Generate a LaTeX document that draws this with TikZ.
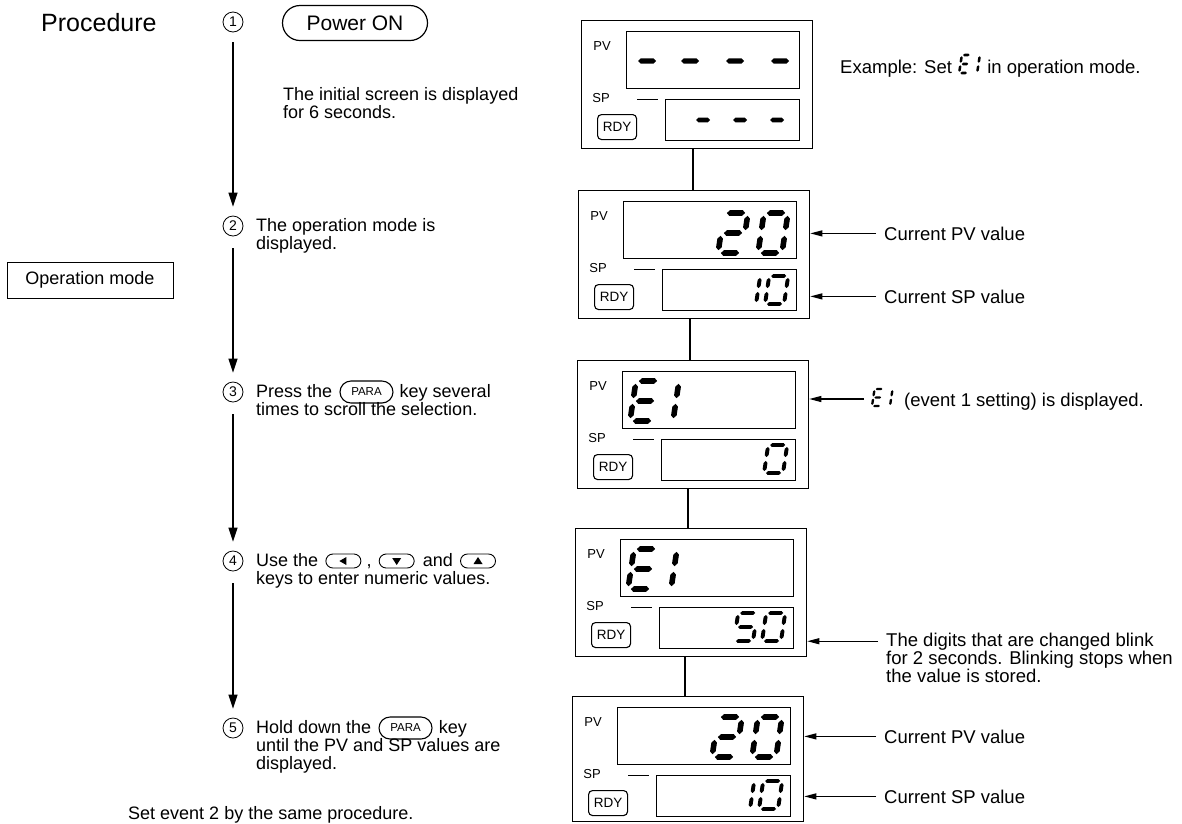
\documentclass[tikz,border=0pt]{standalone}
\usepackage{fontspec}
\setmainfont{Liberation Sans}
\usetikzlibrary{arrows.meta,shapes.misc,calc}

\newcommand\hsg[3]{\fill ({#1},{#3}) -- ({#1+\dgst},{#3+\dgst}) -- ({#2-\dgst},{#3+\dgst}) -- ({#2},{#3}) -- ({#2-\dgst},{#3-\dgst}) -- ({#1+\dgst},{#3-\dgst}) -- cycle;}
\newcommand\vsg[3]{\fill ({#1},{#2}) -- ({#1+\dgst},{#2+\dgst}) -- ({#1+\dgst},{#3-\dgst}) -- ({#1},{#3}) -- ({#1-\dgst},{#3-\dgst}) -- ({#1-\dgst},{#2+\dgst}) -- cycle;}
\newcommand\dsega{\hsg{\dgg}{\dgw-\dgg}{\dgh}}
\newcommand\dsegb{\vsg{\dgw}{\dgh/2+\dgg}{\dgh-\dgg}}
\newcommand\dsegc{\vsg{\dgw}{\dgg}{\dgh/2-\dgg}}
\newcommand\dsegd{\hsg{\dgg}{\dgw-\dgg}{0}}
\newcommand\dsege{\vsg{0}{\dgg}{\dgh/2-\dgg}}
\newcommand\dsegf{\vsg{0}{\dgh/2+\dgg}{\dgh-\dgg}}
\newcommand\dsegg{\hsg{\dgg}{\dgw-\dgg}{\dgh/2}}
\newcommand\sevseg[4]{%
 \begin{scope}[shift={(#1)},x=1pt,y=1pt,xslant=0.15]
 \pgfmathsetmacro\dgw{#2}\pgfmathsetmacro\dgh{#3}%
 \pgfmathsetmacro\dgg{0.07*#3}\pgfmathsetmacro\dgst{0.07*#3}%
 \foreach \sg in {#4}{\csname dseg\sg\endcsname}%
 \end{scope}}
\newcommand\ctrlpanel[4]{%
 \node[pnl, minimum width=231pt, minimum height=#4] (#1) at (#2,#3) {};
 \node[win, minimum width=173pt, minimum height=57pt] (#1pv) at (#2+45,#3+11) {};
 \node[win, minimum width=134pt, minimum height=41pt] (#1sp) at (#2+84,#3+79) {};
 \node[rdy] (#1rdy) at (#2+16,#3+94) {RDY};
 \node[lbl] (#1pvl) at (#2+21,#3+26) {PV};
 \node[lbl] (#1spl) at (#2+20,#3+78) {SP};
 \draw[line width=1pt] (#2+56,#3+79) coordinate (#1ma) -- (#2+77,#3+79) coordinate (#1mb);}

\begin{document}
\begin{tikzpicture}[x=1pt,y=-1pt,
 txt/.style={anchor=base west, inner sep=0pt, font=\fontsize{18}{21}\selectfont},
 rtxt/.style={anchor=base west, inner sep=0pt, font=\fontsize{18.5}{21}\selectfont},
 num/.style={circle, draw, line width=0.8pt, inner sep=0pt, minimum size=20pt, font=\fontsize{14}{14}\selectfont},
 flow/.style={line width=1.3pt, -{Triangle[length=14pt,width=9pt]}},
 pnl/.style={draw, line width=1.3pt, inner sep=0pt, anchor=north west},
 win/.style={draw, line width=1.1pt, inner sep=0pt, anchor=north west},
 rdy/.style={draw, line width=1.1pt, rounded corners=4pt, inner sep=0pt, minimum width=39pt, minimum height=25pt, anchor=north west, font=\fontsize{13.5}{13.5}\selectfont},
 lbl/.style={inner sep=0pt, font=\fontsize{13}{13}\selectfont},
 ptr/.style={line width=1.1pt, -{Triangle[length=12pt,width=6pt]}},
 conn/.style={line width=1.1pt},
 parakey/.style={rounded rectangle, draw, line width=1.1pt, minimum width=53pt, minimum height=22pt, inner sep=0pt, font=\fontsize{11.5}{11.5}\selectfont, anchor=west},
 akey/.style={rounded rectangle, draw, line width=0.9pt, minimum width=35pt, minimum height=14pt, inner sep=0pt, anchor=west},
]
\useasboundingbox (0,0) rectangle (1182,823);
\fill[white] (0,0) rectangle (1182,823);

% ---------- left column ----------
\node[anchor=base west, inner sep=0pt, font=\fontsize{25}{25}\selectfont] (proc) at (41,31) {Procedure};
\node[draw, line width=1pt, minimum width=166pt, minimum height=36pt, inner sep=0pt, font=\fontsize{18}{18}\selectfont] (om) at (90,280) {Operation mode};

\node[num] (c1) at (233,22) {1};
\node[rounded rectangle, draw, line width=1.2pt, minimum width=145pt, minimum height=35pt, inner sep=0pt, font=\fontsize{21}{21}\selectfont] (pwr) at (355,23) {Power ON};
\node[txt] (t1a) at (283,100) {The initial screen is displayed};
\node[txt] (t1b) at (283,118) {for 6 seconds.};

\node[num] (c2) at (233,226) {2};
\node[txt] (t2a) at (256,231) {The operation mode is};
\node[txt] (t2b) at (256,249) {displayed.};

\node[num] (c3) at (233,392) {3};
\node[txt] (t3a) at (256,397) {Press the};
\node[parakey] (k3) at ([xshift=7pt,yshift=5pt]t3a.base east) {PARA};
\node[txt] (t3b) at ([xshift=6pt,yshift=-5pt]k3.east) {key several};
\node[txt] (t3c) at (256,415) {times to scroll the selection.};

\node[num] (c4) at (233,561) {4};
\node[txt] (t4a) at (256,566) {Use the};
\node[akey] (k4a) at ([xshift=7pt,yshift=5pt]t4a.base east) {};
\node[txt] (t4b) at ([xshift=5pt,yshift=-5pt]k4a.east) {,};
\node[akey] (k4b) at ([xshift=7pt,yshift=5pt]t4b.base east) {};
\node[txt] (t4c) at ([xshift=8pt,yshift=-5pt]k4b.east) {and};
\node[akey] (k4c) at ([xshift=7pt,yshift=5pt]t4c.base east) {};
\node[txt] (t4d) at (256,584) {keys to enter numeric values.};
\fill ($(k4a.center)+(-4,0)$) -- ++(7,-4) -- ++(0,8) -- cycle;
\fill ($(k4b.center)+(0,4)$) -- ++(-4.5,-7) -- ++(9,0) -- cycle;
\fill ($(k4c.center)+(0,-4)$) -- ++(-4.5,7) -- ++(9,0) -- cycle;

\node[num] (c5) at (233,728) {5};
\node[txt] (t5a) at (256,733) {Hold down the};
\node[parakey] (k5) at ([xshift=7pt,yshift=5pt]t5a.base east) {PARA};
\node[txt] (t5b) at ([xshift=6pt,yshift=-5pt]k5.east) {key};
\node[txt] (t5c) at (256,751) {until the PV and SP values are};
\node[txt] (t5d) at (256,769) {displayed.};

\node[txt] (last) at (128,819) {Set event 2 by the same procedure.};

\draw[flow, shorten <=10pt, shorten >=9pt] (c1) -- (c2);
\draw[flow, shorten <=12pt, shorten >=9pt] (c2) -- (c3);
\draw[flow, shorten <=12pt, shorten >=9pt] (c3) -- (c4);
\draw[flow, shorten <=12pt, shorten >=9pt] (c4) -- (c5);

% ---------- panels ----------
\ctrlpanel{p1}{581}{20}{128pt}
\ctrlpanel{p2}{578}{190}{128pt}
\ctrlpanel{p3}{577}{360}{128pt}
\ctrlpanel{p4}{575}{528}{128pt}
\ctrlpanel{p5}{572}{696}{125pt}

\coordinate (j1) at ($(p1.south west)+(112,0)$);
\coordinate (j2) at ($(p2.south west)+(112,0)$);
\coordinate (j3) at ($(p3.south west)+(111,0)$);
\coordinate (j4) at ($(p4.south west)+(110,0)$);
\draw[conn] (j1) -- (j1 |- p2.north);
\draw[conn] (j2) -- (j2 |- p3.north);
\draw[conn] (j3) -- (j3 |- p4.north);
\draw[conn] (j4) -- (j4 |- p5.north);

% panel 1 dashes
\def\dgst{2.7}
\hsg{638}{656}{61}\hsg{681}{699}{61}\hsg{726}{744}{61}\hsg{771}{789}{61}
\def\dgst{2.3}
\hsg{696}{710}{120}\hsg{733}{747}{120}\hsg{770}{784}{120}

% panel 2
\sevseg{718,253}{24}{40}{a,b,g,e,d}
\sevseg{758,253}{24}{40}{a,b,c,d,e,f}
\sevseg{737,304}{19}{28}{b,c}
\sevseg{765,304}{19}{28}{a,b,c,d,e,f}
% panel 3
\sevseg{630,421}{24}{40}{a,f,g,e,d}
\sevseg{673,421}{24}{40}{e,f}
\sevseg{764,473}{19}{28}{a,b,c,d,e,f}
% panel 4
\sevseg{628,589}{24}{40}{a,f,g,e,d}
\sevseg{671,589}{24}{40}{e,f}
\sevseg{734,641}{19}{28}{a,f,g,c,d}
\sevseg{762,641}{19}{28}{a,b,c,d,e,f}
% panel 5
\sevseg{712,757}{24}{40}{a,b,g,e,d}
\sevseg{752,757}{24}{40}{a,b,c,d,e,f}
\sevseg{731,809}{19}{28}{b,c}
\sevseg{759,809}{19}{28}{a,b,c,d,e,f}

% ---------- right labels ----------
\node[rtxt] (ex1) at (840,73) {Example: Set};
\sevseg{$(ex1.base east)+(7,0)$}{9}{18}{a,f,g,e,d}
\sevseg{$(ex1.base east)+(25,0)$}{9}{18}{e,f}
\node[rtxt] (ex2) at ($(ex1.base east)+(35,0)$) {in operation mode.};

\node[rtxt] (l2a) at (884,240) {Current PV value};
\node[rtxt] (l2b) at (884,303) {Current SP value};
\draw[ptr, shorten <=8pt] (l2a.west) -- (l2a.west -| p2.east);
\draw[ptr, shorten <=8pt] (l2b.west) -- (l2b.west -| p2.east);

\coordinate (l3g) at (872,406);
\sevseg{l3g}{9}{17}{a,f,g,e,d}
\sevseg{$(l3g)+(18,0)$}{9}{17}{e,f}
\node[rtxt] (l3) at ($(l3g)+(32,0)$) {(event 1 setting) is displayed.};
\coordinate (l3t) at ($(l3g)+(-8,-7)$);
\draw[ptr] (l3t) -- (l3t -| p3.east);

\node[rtxt] (l4a) at (886,646) {The digits that are changed blink};
\node[rtxt] (l4b) at (886,664) {for 2 seconds. Blinking stops when};
\node[rtxt] (l4c) at (886,682) {the value is stored.};
\draw[ptr, shorten <=8pt] (l4a.west) -- (l4a.west -| p4.east);

\node[rtxt] (l5a) at (884,743) {Current PV value};
\node[rtxt] (l5b) at (884,803) {Current SP value};
\draw[ptr, shorten <=8pt] (l5a.west) -- (l5a.west -| p5.east);
\draw[ptr, shorten <=8pt] (l5b.west) -- (l5b.west -| p5.east);
\end{tikzpicture}
\end{document}
